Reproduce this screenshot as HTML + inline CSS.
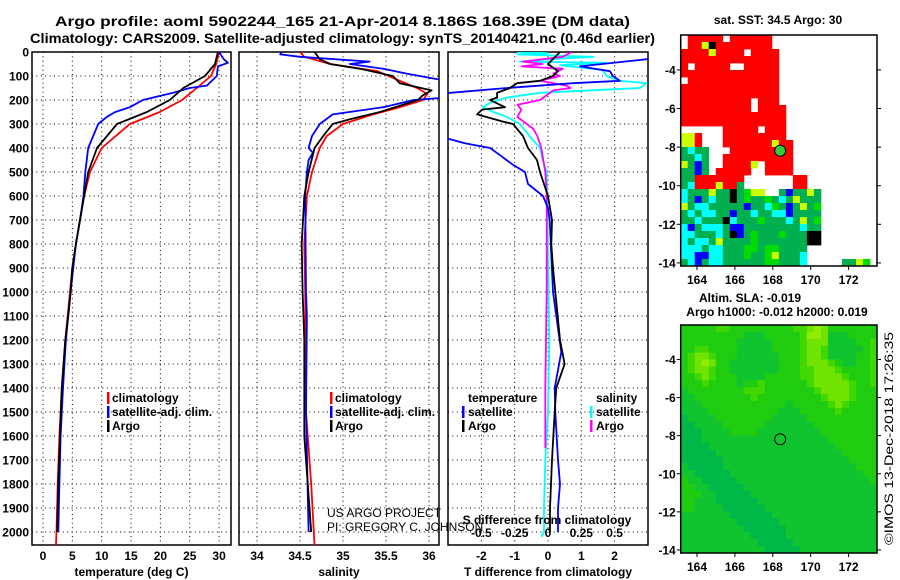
<!DOCTYPE html>
<html><head><meta charset="utf-8">
<style>
html,body{margin:0;padding:0;background:#fff;}
svg{display:block;font-family:"Liberation Sans",Arial,sans-serif;}
.b{font-weight:bold;}
</style></head>
<body>
<svg id="fig" width="900" height="580" viewBox="0 0 900 580" xmlns="http://www.w3.org/2000/svg">
<defs>
<clipPath id="c1"><rect x="32" y="52" width="199" height="493"/></clipPath>
<clipPath id="c2"><rect x="239" y="52" width="200" height="493"/></clipPath>
<clipPath id="c3"><rect x="448" y="52" width="200" height="493"/></clipPath>
</defs>
<text class="b" x="55" y="26" font-size="14" textLength="575" lengthAdjust="spacingAndGlyphs">Argo profile: aoml 5902244_165 21-Apr-2014 8.186S 168.39E (DM data)</text>
<text class="b" x="30" y="43" font-size="14" textLength="625" lengthAdjust="spacingAndGlyphs">Climatology: CARS2009. Satellite-adjusted climatology: synTS_20140421.nc (0.46d earlier)</text>
<text class="b" x="778" y="24" font-size="12" text-anchor="middle">sat. SST: 34.5 Argo: 30</text>
<text class="b" x="750" y="302" font-size="12" text-anchor="middle">Altim. SLA: -0.019</text>
<text class="b" x="777" y="316" font-size="12" text-anchor="middle">Argo h1000: -0.012 h2000: 0.019</text>
<text x="893" y="545" font-size="12" transform="rotate(-90 893 545)" textLength="213" lengthAdjust="spacingAndGlyphs">©IMOS 13-Dec-2018 17:26:35</text>
<g id="plots"></g>
</svg>
<script>
// ---- data: depths (dbar) and series values ----
var depthTicks = [0,100,200,300,400,500,600,700,800,900,1000,1100,1200,1300,1400,1500,1600,1700,1800,1900,2000];
var tempTicks = [0,5,10,15,20,25,30];
var salTicks = [34,34.5,35,35.5,36];
var tdiffTicks = [-2,-1,0,1,2];
var sdiffTicks = [-0.5,-0.25,0,0.25,0.5];

var tArgoDepth = [0,50,100,150,200,250,300,400,500,600,700,800,900,1000,1100,1200,1400,1600,1800,2000];
var tArgo = [29.8,29.3,27.6,23.9,21.6,17.7,12.6,9.2,7.7,7.0,6.3,5.6,5.0,4.7,4.3,3.8,3.2,2.9,2.6,2.4];
var tClimDepth = [0,50,100,150,200,250,300,400,500,600,700,800,900,1000,1200,1400,1600,1800,2000,2060];
var tClim = [30.0,29.5,28.6,26.2,23.7,19.9,14.8,10.0,8.0,7.0,6.3,5.6,5.0,4.6,3.8,3.2,2.8,2.5,2.3,2.2];
var tSatDepth = [0,30,45,60,100,140,150,170,200,230,250,270,300,400,500,600,700,800,1000,1200,1400,1600,1800,2000];
var tSat = [30.0,30.8,31.5,29.8,29.6,27.9,25.0,22.2,17.0,14.8,12.3,10.9,9.4,7.7,7.2,6.9,6.3,5.6,4.7,3.9,3.4,3.0,2.8,2.6];

var sArgoDepth = [0,30,50,70,100,130,160,180,200,250,280,300,350,400,500,600,800,1000,1200,1600,2000];
var sArgo = [34.67,34.73,34.85,35.2,35.58,35.66,36.03,35.93,35.87,35.43,35.08,34.88,34.77,34.67,34.6,34.55,34.52,34.53,34.55,34.55,34.63];
var sClimDepth = [0,20,50,80,120,150,175,200,230,260,300,350,400,500,600,800,1000,1500,1800,2060];
var sClim = [34.5,34.55,34.85,35.4,35.66,35.86,35.98,35.93,35.66,35.35,35.0,34.81,34.73,34.64,34.58,34.55,34.56,34.57,34.63,34.67];
var sSatDepth = [0,10,20,40,50,70,90,120,190,200,230,260,300,350,400,420,450,500,600,1000,1100,1500,2000];
var sSat = [34.29,34.27,34.5,35.31,35.08,35.47,35.74,36.2,36.2,35.82,35.47,34.88,34.73,34.64,34.6,34.65,34.6,34.58,34.56,34.57,34.58,34.57,34.6];

var dtArgoDepth = [0,50,80,100,120,130,150,170,190,200,230,240,260,290,300,350,400,450,500,600,700,800,900,1200,1300,1400,1500,1700,1900,2000];
var dtArgo = [0.36,0,0.3,0.15,-0.24,-0.93,-1.14,-1.53,-1.53,-1.74,-1.29,-1.98,-2.13,-1.35,-1.05,-0.75,-0.6,-0.33,-0.24,0,0.12,0.1,0.15,0.36,0.5,0.25,0.2,0.12,0.06,0.06];
var dtSatDepth = [0,30,60,80,100,120,130,150,170,180,350,380,400,430,470,500,550,600,650,700,1000,1250,1400,1500,1700,1800,1900,2000];
var dtSat = [3.2,2.97,0.96,1.86,1.95,2.16,0.75,-1.23,-2.94,-3.3,-3.3,-2.5,-1.74,-1.44,-1.05,-0.69,-0.6,-0.15,0,0.05,0.15,0.4,0.2,0.22,0.3,0.36,0.3,0.3];
var dsArgoDepth = [0,20,40,50,60,70,90,100,120,140,150,160,200,220,240,270,300,320,350,400,500,600,1000,1400,1650];
var dsArgo = [0.18,0.11,-0.19,-0.04,-0.2,0.11,0.04,0.09,-0.06,0.14,0.17,0.04,-0.06,-0.23,-0.2,-0.23,-0.16,-0.11,-0.08,-0.05,-0.02,-0.01,-0.01,-0.02,-0.02];
var dsSatDepth = [0,5,10,20,30,40,45,55,75,100,120,130,150,170,190,210,230,250,270,300,350,400,450,500,1200,1500,1700,1900,2000,2020];
var dsSat = [-0.23,0,-0.23,0.34,0.01,-0.21,0.44,0.09,0.41,0.44,0.54,0.74,0.69,-0.06,-0.31,-0.43,-0.49,-0.41,-0.31,-0.21,-0.14,-0.06,-0.04,-0.01,0.01,0,-0.02,-0.03,-0.03,-0.05];

// map heatmap cells (rows N->S, cols W->E)
var sstRows = [
"WRRRRRWRRRRRRWWWWWWWWWWWWWWW","WRRYKRRRRRRRRWWWWWWWWWWWWWWW","RRRRYRRRRWRRRRWWWWWWWWWWWWWW",
"RRRRRRRRRRRRRRWWWWWWWWWWWWWW","RWRRRRRWWRRRRRWWWWWWWWWWWWWW","RRRRRRRRRRRRRRWWWWWWWWWWWWWW",
"WRRRRRRRRRRRRRWWWWWWWWWWWWWW","RRRRRRRRRRRRRRWWWWWWWWWWWWWW","RRRRRRRRRRRRRRWWWWWWWWWWWWWW",
"RRRRRRRRRRWRRRWWWWWWWWWWWWWW","RRRRRRRRRRWRRRRWWWWWWWWWWWWW","RRRRRRRRRRRRRRRWWWWWWWWWWWWW",
"RRRRRRRRRRRRRRRWWWWWWWWWWWWW","WWWWWWRRRRRWRRRWWWWWWWWWWWWW","YYRWWWRRRRRRRRRWWWWWWWWWWWWW",
"YYRWWWRRRRRRRYRRWWWWWWWWWWWW","GCGGWWWRRRRRRRLRWWWWWWWWWWWW","GGCGWWRRRRRRRRRRWWWWWWWWWWWW",
"YGBGWWRRRRYWRRRRWWWWWWWWWWWW","GGBGWRRRRRWWRRRRWWWWWWWWWWWW","GGRRRRRRRWWWWWWWRRWWWWWWWWWW",
"GCRRRYRRGWWWWWWWRRWWWWWWWWWW","CGGGYGGKGLYYWWGBGGYGWWWWWWWW","CGBGCGGKGLGGLGCGYGGGWWWWWWWW",
"YGCCGGGGGBGGCLGBGYGLWWWWWWWW","GCGCCGGBGGCGGCCBGGGGWWWWWWWW","GGCGGGKCGGGLGGGCGYGLWWWWWWWW",
"CBGCCCGBBGGGGGGGGCGGWWWWWWWW","CCGGGCGKBGLGGGLGGGKKWWWWWWWW","CGCCGYGGGGLGGGGGGGKKWWWWWWWW",
"CCCGCCGGGLLGLLGGGGWWWWWWWWWW","CCBBCCGGGLGGLYGGGCWWWWWWWWWW","GCBGCCGGGGGGLLGGGCWWWWWGGYLW"];
var slaRows = [
"2222233222222222334542222222","2222222221112222235541112222","2222222211111222234441111223",
"2233222211111222234431111123","2344322211111122234431111223","2345422111111122234443211223",
"2344322111111122233444322223","2234322211112222233444432223","2223222212232222223444443223",
"1222222223332222222344443222","1122222222322222222234443222","1112222222222221222223432222",
"1111222222222211122222322222","0111122222222111112222222222","0011112222221111111222222222",
"0001111222211111111122222222","0001111111111111111112222222","0000111111111111111111222222",
"0000011111111111111111122222","0000001111111111111111112222","1000001111111111111111111222",
"1100000111111111111111111122","2110000011111111111111111112","2211000001111111111111111111",
"2221100000111111111111111111","2211100000011111111111111111","2211110000001111111111111111",
"1111111000000111111111111111","1111111100000011111111111111","1111111110000001111111111111",
"1111111111000001111111111111","1111111111100000111111111111","1111111111110000011111111111"];
var latTicks = [-4,-6,-8,-10,-12,-14];
var lonTicks = [164,166,168,170,172];
var floatLon = [168.39];
var floatLat = [-8.186];

var NS = "http://www.w3.org/2000/svg";
var root = document.getElementById("plots");
function mk(tag, attrs, parent){
  var e = document.createElementNS(NS, tag);
  for (var k in attrs) e.setAttribute(k, attrs[k]);
  (parent||root).appendChild(e);
  return e;
}
var Y0 = 52, DS = 0.24, YB = 545;
function yD(d){ return Y0 + d*DS; }
function makeX(x0, v0, s){ return function(v){ return x0 + (v - v0)*s; }; }
var xT = makeX(43, 0, 5.87);
var xS = makeX(257, 34, 86);
var xDT = makeX(548, 0, 33.3);
var xDS = makeX(548, 0, 133.2);

function panel(name, x0, x1, clipId, xf, ticks, labels, xTitle){
  var g = mk("g", {});
  
  
  depthTicks.forEach(function(d){
    var l = mk("line", {x1:x0, x2:x1, y1:yD(d), y2:yD(d), stroke:"#000", "stroke-width":1, "stroke-dasharray":"1,3.4"}, g);
    
    
  });
  ticks.forEach(function(t, i){
    var x = xf(t);
    var l = mk("line", {x1:x, x2:x, y1:Y0, y2:YB, stroke:"#000", "stroke-width":1, "stroke-dasharray":"1,3.4"}, g);
    
    
    var tx = mk("text", {x:x, y:560, "font-size":12, "text-anchor":"middle", "class":"b"}, g);
    tx.textContent = labels[i];
    
    
  });
  var r = mk("rect", {x:x0, y:Y0, width:x1-x0, height:YB-Y0, fill:"none", stroke:"#000", "stroke-width":1.5}, g);
  
  
  var at = mk("text", {x:(x0+x1)/2, y:576, "font-size":12, "text-anchor":"middle", "class":"b"}, g);
  at.textContent = xTitle;
  
  
  return g;
}
function series(name, g, clipId, depths, vals, xf, color, w){
  var pts = depths.map(function(d, i){ return xf(vals[i]).toFixed(1) + "," + yD(d).toFixed(1); }).join(" ");
  var p = mk("polyline", {points:pts, fill:"none", stroke:color, "stroke-width":w||1.8, "clip-path":"url(#"+clipId+")", "stroke-linejoin":"round"}, g);
  
  
}
function legend(g, name, x, y, color, label, barX){
  var b = mk("rect", {x:barX, y:y-10, width:2.5, height:12, fill:color}, g);
  
  
  var t = mk("text", {x:x, y:y, "font-size":12, "class":"b"}, g);
  t.textContent = label;
  
  
}

depthTicks.forEach(function(d){
  var t = mk("text", {x:29, y:yD(d)+4.5, "font-size":12, "text-anchor":"end", "class":"b"});
  t.textContent = d;
  
  
});

var g1 = panel("temperature", 32, 231, "c1", xT, tempTicks, tempTicks.map(String), "temperature (deg C)");
series("temp-climatology-line", g1, "c1", tClimDepth, tClim, xT, "#ff0000");
series("temp-satellite-line", g1, "c1", tSatDepth, tSat, xT, "#0000ff");
series("temp-argo-line", g1, "c1", tArgoDepth, tArgo, xT, "#000000");
legend(g1, "legend-climatology", 112, 402, "#ff0000", "climatology", 107);
legend(g1, "legend-satellite", 112, 416, "#0000ff", "satellite-adj. clim.", 107);
legend(g1, "legend-argo", 112, 430, "#000000", "Argo", 107);

var g2 = panel("salinity", 239, 439, "c2", xS, salTicks, ["34","34.5","35","35.5","36"], "salinity");
series("sal-climatology-line", g2, "c2", sClimDepth, sClim, xS, "#ff0000");
series("sal-satellite-line", g2, "c2", sSatDepth, sSat, xS, "#0000ff");
series("sal-argo-line", g2, "c2", sArgoDepth, sArgo, xS, "#000000");
legend(g2, "legend-sal-climatology", 335, 402, "#ff0000", "climatology", 330);
legend(g2, "legend-sal-satellite", 335, 416, "#0000ff", "satellite-adj. clim.", 330);
legend(g2, "legend-sal-argo", 335, 430, "#000000", "Argo", 330);

var g3 = panel("difference", 448, 648, "c3", xDT, tdiffTicks, tdiffTicks.map(String), "T difference from climatology");
series("sdiff-satellite-line", g3, "c3", dsSatDepth, dsSat, xDS, "#00ffff");
series("sdiff-argo-line", g3, "c3", dsArgoDepth, dsArgo, xDS, "#ff00ff");
series("tdiff-satellite-line", g3, "c3", dtSatDepth, dtSat, xDT, "#0000ff");
series("tdiff-argo-line", g3, "c3", dtArgoDepth, dtArgo, xDT, "#000000");
var th = mk("text", {x:468, y:402, "font-size":12, "class":"b"}, g3); th.textContent = "temperature";


var sh = mk("text", {x:596, y:402, "font-size":12, "class":"b"}, g3); sh.textContent = "salinity";


legend(g3, "legend-tdiff-satellite", 468, 416, "#0000ff", "satellite", 462);
legend(g3, "legend-tdiff-argo", 468, 430, "#000000", "Argo", 462);
legend(g3, "legend-sdiff-satellite", 596, 416, "#00ffff", "satellite", 590);
legend(g3, "legend-sdiff-argo", 596, 430, "#ff00ff", "Argo", 590);
var st = mk("text", {x:547, y:524, "font-size":12, "text-anchor":"middle", "class":"b"}, g3); st.textContent = "S difference from climatology";


sdiffTicks.forEach(function(s){
  var t = mk("text", {x:xDS(s), y:537, "font-size":12, "text-anchor":"middle", "class":"b"}, g3);
  t.textContent = String(s);
  
  
});
var u1 = mk("text", {x:327, y:517, "font-size":12}); u1.textContent = "US ARGO PROJECT";


var u2 = mk("text", {x:327, y:531, "font-size":12}); u2.textContent = "PI: GREGORY C. JOHNSON";



// ---- maps ----
var MX0 = 680.7, MX1 = 877, LON0 = 163.14, LON1 = 173.5;
var LAT0 = -2.19, LAT1 = -14.16;
function mapPanel(name, top, bottom, rows, colors, filledMarker){
  var g = mk("g", {});
  
  
  var xL = function(lon){ return MX0 + (lon - LON0)/(LON1-LON0)*(MX1-MX0); };
  var yL = function(lat){ return top + (lat - LAT0)/(LAT1-LAT0)*(bottom-top); };
  var nr = rows.length, nc = 28, cw = (MX1-MX0)/nc, ch = (bottom-top)/nr;
  rows.forEach(function(row, r){
    for (var c = 0; c < nc; c++){
      var k = row.charAt(c) || "W";
      if (k === "W") continue;
      var cell = mk("rect", {x:(MX0+c*cw).toFixed(2), y:(top+r*ch).toFixed(2), width:(cw+0.4).toFixed(2), height:(ch+0.4).toFixed(2), fill:colors[k]}, g);
      
      
    }
  });
  var fr = mk("rect", {x:MX0, y:top, width:MX1-MX0, height:bottom-top, fill:"none", stroke:"#000", "stroke-width":1.5}, g);
  
  
  latTicks.forEach(function(lat){
    var y = yL(lat);
    var tk = mk("line", {x1:MX0-4, x2:MX0, y1:y, y2:y, stroke:"#000"}, g);
    
    
    var tk2 = mk("line", {x1:MX1, x2:MX1+4, y1:y, y2:y, stroke:"#000"}, g);
    
    
    var t = mk("text", {x:MX0-5, y:y+4.5, "font-size":12, "text-anchor":"end", "class":"b"}, g);
    t.textContent = lat;
    
    
  });
  lonTicks.forEach(function(lon){
    var x = xL(lon);
    var tk = mk("line", {x1:x, x2:x, y1:bottom, y2:bottom+4, stroke:"#000"}, g);
    
    
    var t = mk("text", {x:x, y:bottom+18, "font-size":12, "text-anchor":"middle", "class":"b"}, g);
    t.textContent = lon;
    
    
  });
  var m = mk("circle", {cx:xL(floatLon[0]), cy:yL(floatLat[0]), r:5.5, fill:filledMarker ? "#33cc33" : "none", stroke:"#000", "stroke-width":1}, g);
  
  
}
mapPanel("sst-map", 35, 266, sstRows, {R:"#ff0000", G:"#00b050", C:"#00ffff", B:"#0000ff", Y:"#ccff00", L:"#00dd00", K:"#000000"}, true);
mapPanel("sla-map", 325, 553, slaRows, {"0":"#00b848", "1":"#10c430", "2":"#20cc10", "3":"#40d800", "4":"#70e400", "5":"#90ec00"}, false);
</script>
</body></html>
